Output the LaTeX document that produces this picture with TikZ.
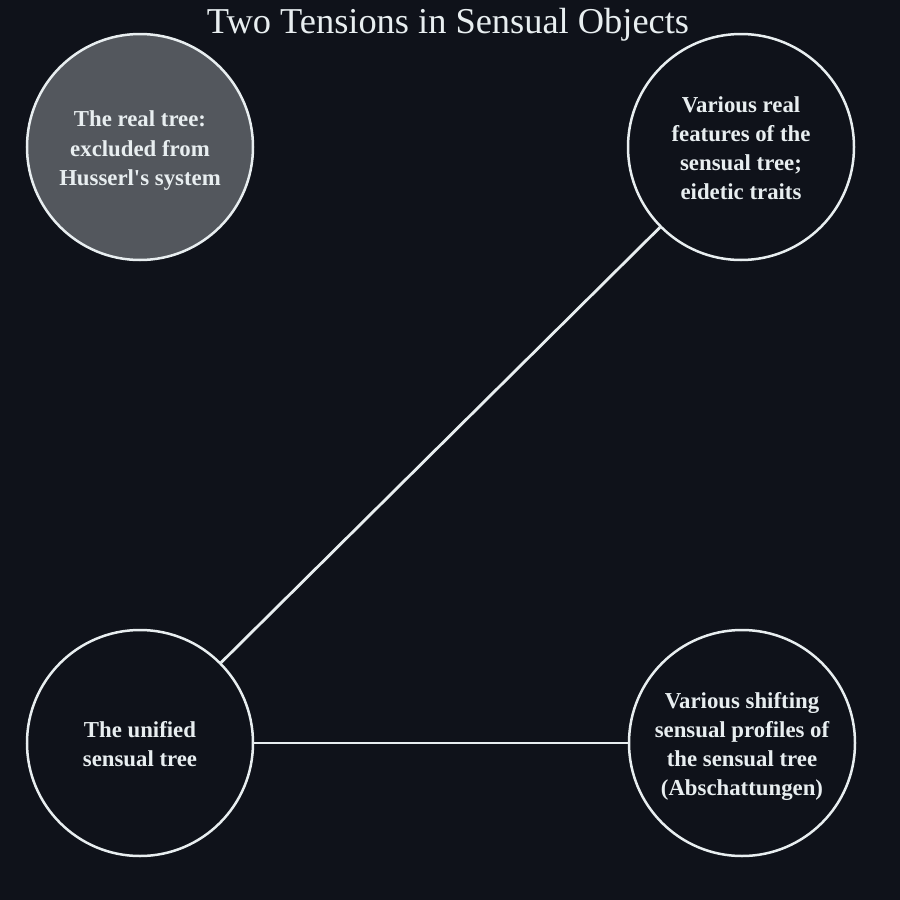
\documentclass[tikz,border=0pt]{standalone}
\usepackage{fontspec}
\setmainfont{Liberation Serif}
\definecolor{bg}{HTML}{0F121A}
\definecolor{ink}{HTML}{E8EEF0}
\definecolor{realfill}{HTML}{53575D}
\newcommand{\lowtext}[1]{\raisebox{-1.6pt}[\height][\depth]{\begin{tabular}{@{}c@{}}#1\end{tabular}}}
\begin{document}
\begin{tikzpicture}[x=0.5pt,y=-0.5pt,
  blob/.style={circle,draw=ink,line width=1.25pt,minimum size=113pt,inner sep=0pt,
    text=ink,font=\fontsize{11.4}{14.6}\selectfont\bfseries},
  link/.style={draw=ink,line width=1.4pt}]
\fill[bg] (0,0) rectangle (900,900);
\useasboundingbox (0,0) rectangle (900,900);
\node[text=ink,font=\fontsize{18.2}{22}\selectfont] (title) at (448,25) {Two Tensions in Sensual Objects};
\node[blob,fill=realfill] (real) at (140,147) {\lowtext{The real tree:\\excluded from\\Husserl\textquotesingle s system}};
\node[blob,fill=bg] (feat) at (741,147) {\lowtext{Various real\\features of the\\sensual tree;\\eidetic traits}};
\node[blob,fill=bg] (unif) at (140,743) {\lowtext{The unified\\sensual tree}};
\node[blob,fill=bg] (prof) at (742,743) {\lowtext{Various shifting\\sensual profiles of\\the sensual tree\\(Abschattungen)}};
\draw[link] (unif) -- (feat);
\draw[link] (unif) -- (prof);
\end{tikzpicture}
\end{document}
